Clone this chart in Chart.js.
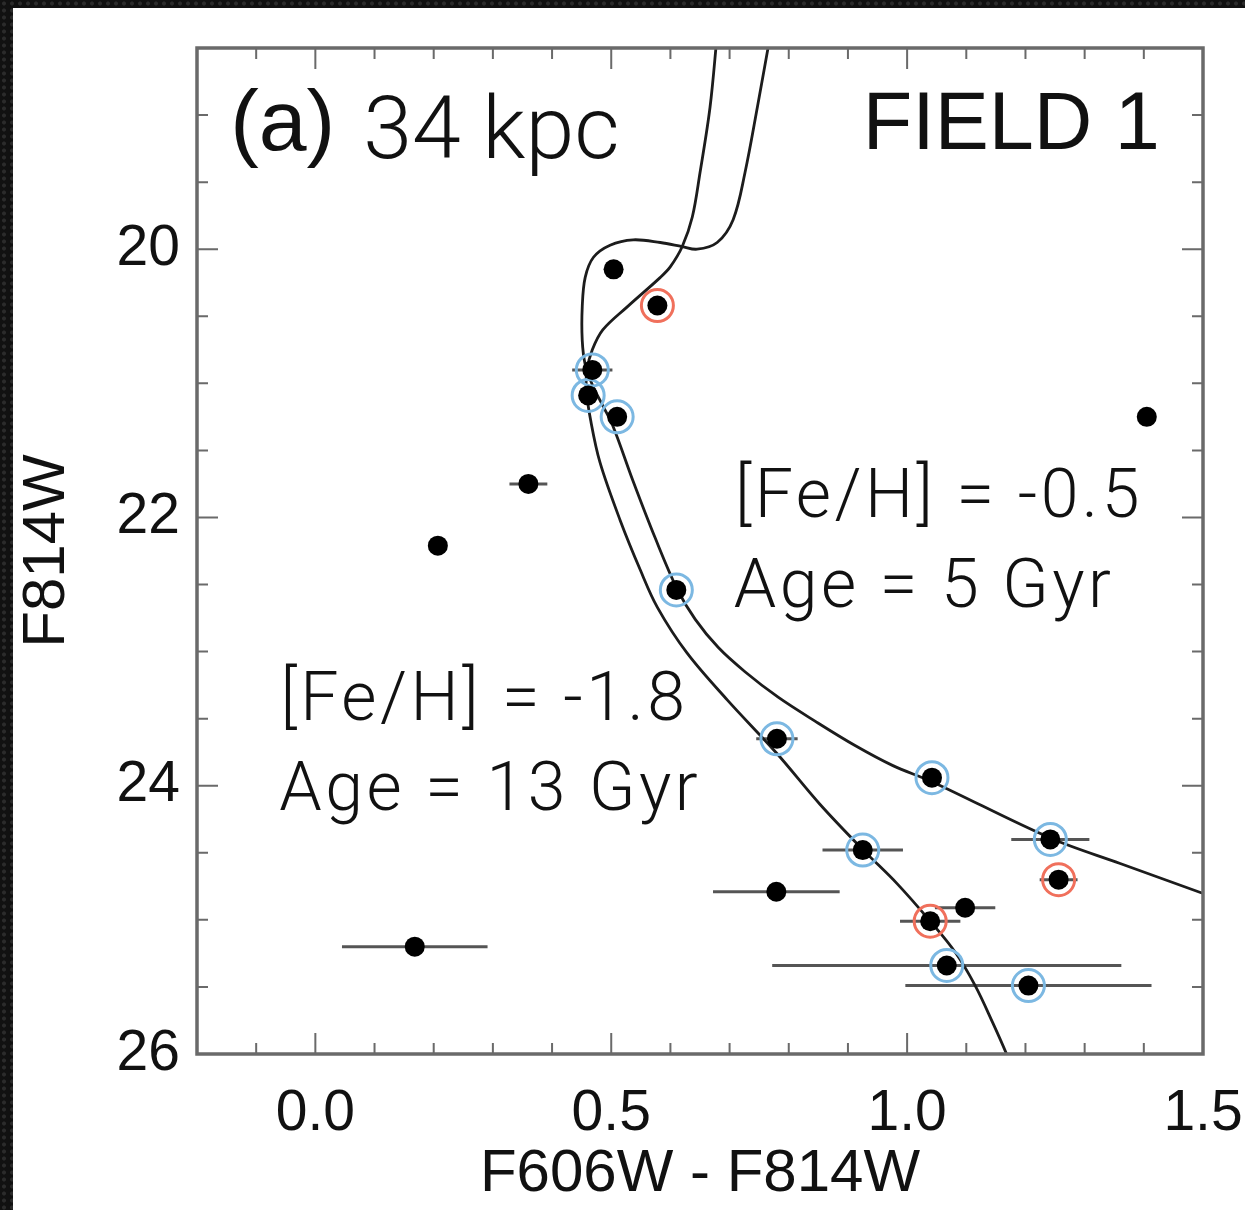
<!DOCTYPE html>
<html>
<head>
<meta charset="utf-8">
<script src="https://cdn.jsdelivr.net/npm/chart.js@4.4.1/dist/chart.umd.min.js"></script>
<style>
  html, body { margin: 0; padding: 0; }
  body {
    width: 1245px; height: 1210px; overflow: hidden; position: relative;
    background-color: #111;
    background-image: radial-gradient(circle, #2b2b2b 0 1.5px, transparent 2.5px);
    background-size: 8px 7px;
  }
  #panel { position: absolute; left: 13px; top: 8px; width: 1232px; height: 1202px; background: #fff; }
</style>
</head>
<body>
<div id="panel"><canvas id="cmd" width="1232" height="1202"></canvas></div>
<script>
// photometry: F606W-F814W colour, F814W magnitude, colour error
const starColor = [0.504, 0.578, 0.468, 0.461, 0.510, 1.405, 0.360, 0.207, 0.610, 0.780, 1.042, 1.242, 0.925, 1.256, 0.779, 1.098, 1.039, 0.168, 1.067, 1.205];
const starMag   = [20.15, 20.42, 20.90, 21.09, 21.25, 21.25, 21.75, 22.21, 22.54, 23.65, 23.94, 24.40, 24.48, 24.70, 24.79, 24.91, 25.01, 25.20, 25.34, 25.49];
const starErr   = [0, 0, 0.034, 0, 0, 0, 0.032, 0, 0.015, 0.035, 0, 0.066, 0.068, 0.032, 0.107, 0.051, 0.051, 0.123, 0.295, 0.208];
const starRing  = ['', 'red', 'blue', 'blue', 'blue', '', '', '', 'blue', 'blue', 'blue', 'blue', 'blue', 'red', '', '', 'red', '', 'blue', 'blue'];

// isochrone [Fe/H] = -1.8, 13 Gyr
const oldColor = [0.679, 0.667, 0.650, 0.637, 0.620, 0.600, 0.583, 0.527, 0.486, 0.468, 0.459, 0.458, 0.465, 0.481, 0.515, 0.549, 0.578, 0.628, 0.696, 0.780, 0.853, 0.926, 0.983, 1.039, 1.081, 1.115, 1.145, 1.169, 1.182];
const oldMag   = [18.40, 18.94, 19.43, 19.76, 19.98, 20.13, 20.21, 20.43, 20.60, 20.75, 20.90, 21.05, 21.27, 21.59, 22.02, 22.39, 22.67, 23.01, 23.36, 23.76, 24.14, 24.48, 24.73, 25.01, 25.24, 25.49, 25.77, 26.01, 26.16];

// isochrone [Fe/H] = -0.5, 5 Gyr
const youngColor = [0.769, 0.747, 0.726, 0.706, 0.679, 0.645, 0.620, 0.583, 0.537, 0.498, 0.470, 0.456, 0.451, 0.451, 0.456, 0.468, 0.485, 0.503, 0.537, 0.574, 0.611, 0.642, 0.681, 0.726, 0.782, 0.845, 0.912, 0.976, 1.042, 1.242, 1.360, 1.498, 1.596];
const youngMag   = [18.40, 18.94, 19.43, 19.78, 19.95, 20.00, 19.98, 19.95, 19.93, 19.97, 20.06, 20.21, 20.43, 20.68, 20.86, 21.01, 21.16, 21.32, 21.73, 22.15, 22.53, 22.76, 22.97, 23.15, 23.34, 23.52, 23.70, 23.85, 23.97, 24.39, 24.58, 24.80, 24.96];

// axis ticks
const xTickLabels = [0.0, 0.5, 1.0, 1.5];
const xMinorTicks = [-0.1, 0.1, 0.2, 0.3, 0.4, 0.6, 0.7, 0.8, 0.9, 1.1, 1.2, 1.3, 1.4];
const yTickLabels = [20, 22, 24, 26];
const yMinorTicks = [19, 19.5, 20.5, 21, 21.5, 22.5, 23, 23.5, 24.5, 25, 25.5];

const BLUE = '#7cb8e2';
const RED = '#f0705c';
const FRAME = '#6a6a6a';
const LIGHT = '"Roboto", "Lato", sans-serif';
const PLAIN = '"Liberation Sans", Arial, Helvetica, sans-serif';

const stars = starColor.map((c, i) => ({ x: c, y: starMag[i] }));
const ringed = (kind) => stars.filter((_, i) => starRing[i] === kind);
const curve = (cs, ms) => cs.map((c, i) => ({ x: c, y: ms[i] }));

// text placed in data coordinates: [text, colour, magnitude, font, align, letter spacing]
const notes = [
  ['(a)', -0.144, 19.26, '400 86px ' + PLAIN, 'left', 0],
  ['34 kpc', 0.081, 19.32, '300 88px ' + LIGHT, 'left', 0],
  ['FIELD 1', 1.427, 19.25, '400 81px ' + PLAIN, 'right', 0],
  ['[Fe/H] = -0.5', 0.709, 22.0, '300 68px ' + LIGHT, 'left', 3.5],
  ['Age = 5 Gyr', 0.707, 22.67, '300 68px ' + LIGHT, 'left', 3.5],
  ['[Fe/H] = -1.8', -0.059, 23.51, '300 68px ' + LIGHT, 'left', 3.5],
  ['Age = 13 Gyr', -0.061, 24.18, '300 68px ' + LIGHT, 'left', 3.5]
];

const cmdDecor = {
  id: 'cmdDecor',
  beforeDatasetsDraw(chart) {
    const { ctx, scales: { x, y } } = chart;
    ctx.save();
    ctx.strokeStyle = '#555';
    ctx.lineWidth = 3;
    starErr.forEach((e, i) => {
      if (!e) return;
      const py = y.getPixelForValue(starMag[i]);
      ctx.beginPath();
      ctx.moveTo(x.getPixelForValue(starColor[i] - e), py);
      ctx.lineTo(x.getPixelForValue(starColor[i] + e), py);
      ctx.stroke();
    });
    ctx.restore();
  },
  afterDraw(chart) {
    const { ctx, chartArea: a, scales: { x, y } } = chart;
    ctx.save();
    ctx.strokeStyle = FRAME;
    ctx.lineWidth = 2;
    const tick = (vals, len, horiz) => vals.forEach(v => {
      ctx.beginPath();
      if (horiz) {
        const px = x.getPixelForValue(v);
        ctx.moveTo(px, a.bottom); ctx.lineTo(px, a.bottom - len);
        ctx.moveTo(px, a.top); ctx.lineTo(px, a.top + len);
      } else {
        const py = y.getPixelForValue(v);
        ctx.moveTo(a.left, py); ctx.lineTo(a.left + len, py);
        ctx.moveTo(a.right, py); ctx.lineTo(a.right - len, py);
      }
      ctx.stroke();
    });
    tick(xMinorTicks, 11, true);
    tick(xTickLabels, 21, true);
    tick(yMinorTicks, 11, false);
    tick(yTickLabels, 21, false);
    ctx.lineWidth = 3.5;
    ctx.strokeRect(a.left, a.top, a.right - a.left, a.bottom - a.top);

    ctx.fillStyle = '#111';
    ctx.textBaseline = 'alphabetic';
    notes.forEach(([t, cx, cy, font, align, spacing]) => {
      ctx.font = font;
      ctx.textAlign = align;
      ctx.letterSpacing = spacing + 'px';
      ctx.fillText(t, x.getPixelForValue(cx), y.getPixelForValue(cy));
    });
    ctx.restore();
  }
};

new Chart(document.getElementById('cmd'), {
  type: 'scatter',
  data: {
    datasets: [
      { label: 'stars', data: stars, pointRadius: 10, pointBackgroundColor: '#000', pointBorderWidth: 0, order: 0 },
      { label: 'blue', data: ringed('blue'), pointRadius: 16, pointBorderWidth: 3, pointBorderColor: BLUE, pointBackgroundColor: 'rgba(0,0,0,0)', order: 1 },
      { label: 'red', data: ringed('red'), pointRadius: 16, pointBorderWidth: 3, pointBorderColor: RED, pointBackgroundColor: 'rgba(0,0,0,0)', order: 1 },
      { label: '[Fe/H] = -1.8', data: curve(oldColor, oldMag), showLine: true, pointRadius: 0, borderColor: '#1c1c1c', borderWidth: 2.8, tension: 0.35, order: 2 },
      { label: '[Fe/H] = -0.5', data: curve(youngColor, youngMag), showLine: true, pointRadius: 0, borderColor: '#1c1c1c', borderWidth: 2.8, tension: 0.35, order: 2 }
    ]
  },
  options: {
    responsive: false,
    animation: false,
    layout: { padding: { left: 0, right: 42, top: 40, bottom: 0 } },
    plugins: { legend: { display: false }, tooltip: { enabled: false } },
    scales: {
      x: {
        type: 'linear', min: -0.2, max: 1.5,
        grid: { display: false, drawTicks: false },
        border: { display: false },
        afterBuildTicks: (s) => { s.ticks = xTickLabels.map(v => ({ value: v })); },
        afterFit: (s) => { s.height = 156; s.paddingLeft = 0; s.paddingRight = 0; },
        ticks: {
          color: '#111', padding: 26, maxRotation: 0, autoSkip: false,
          font: { family: PLAIN, size: 57 },
          callback: (v) => Number(v).toFixed(1)
        },
        title: {
          display: true, text: 'F606W - F814W', color: '#111',
          font: { family: PLAIN, size: 60, lineHeight: 1 },
          padding: { top: 0, bottom: 6 }
        }
      },
      y: {
        type: 'linear', min: 18.5, max: 26, reverse: true,
        grid: { display: false, drawTicks: false },
        border: { display: false },
        afterBuildTicks: (s) => { s.ticks = yTickLabels.map(v => ({ value: v })); },
        afterFit: (s) => { s.width = 184; s.paddingTop = 0; s.paddingBottom = 0; },
        ticks: {
          color: '#111', padding: 17, autoSkip: false,
          font: { family: PLAIN, size: 57 }
        },
        title: {
          display: true, text: 'F814W', color: '#111',
          font: { family: PLAIN, size: 60, lineHeight: 1 },
          padding: { top: 4, bottom: 0 }
        }
      }
    }
  },
  plugins: [cmdDecor]
});
</script>
</body>
</html>
